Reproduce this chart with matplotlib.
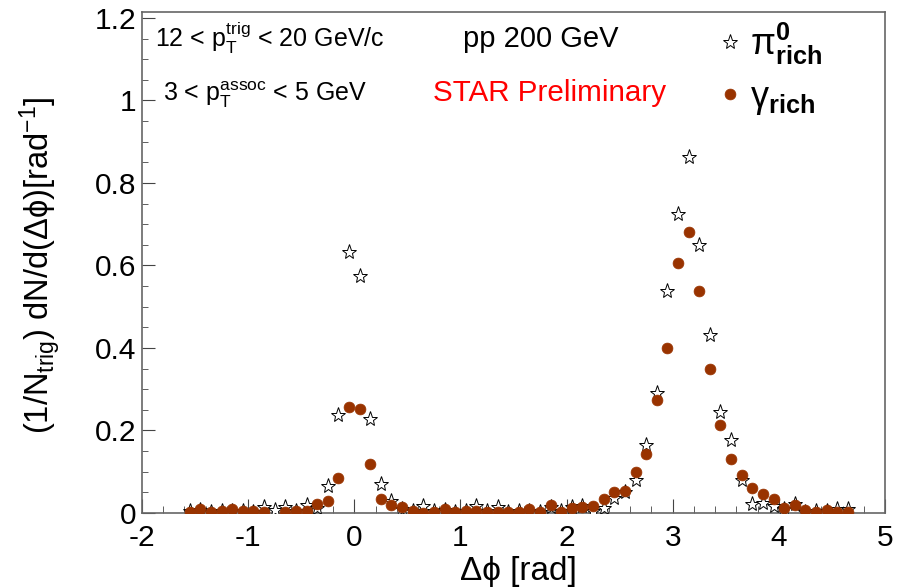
import numpy as np
import matplotlib
matplotlib.use('Agg')
import matplotlib.pyplot as plt
from matplotlib.ticker import MultipleLocator

plt.rcParams['font.family'] = ['Liberation Sans', 'DejaVu Sans']
plt.rcParams['mathtext.fontset'] = 'custom'
plt.rcParams['mathtext.rm'] = 'Liberation Sans'
plt.rcParams['mathtext.it'] = 'Liberation Sans:italic'
plt.rcParams['mathtext.bf'] = 'Liberation Sans:bold'
plt.rcParams['axes.unicode_minus'] = False

# delta phi bin centres (bin width 0.1 rad, -1.6 .. 4.7)
dphi = np.round(np.arange(-1.55, 4.7, 0.1), 2)

# pi0-rich triggers (open stars)
pi0_rich = [0.005, 0.008, 0.003, 0.006, 0.006, 0.004, 0.003, 0.015, 0.008, 0.015,
            0.005, 0.020, 0.012, 0.066, 0.237, 0.633, 0.575, 0.227, 0.070, 0.030,
            0.010, 0.005, 0.018, 0.004, 0.008, 0.003, 0.005, 0.018, 0.004, 0.015,
            0.003, 0.004, 0.006, 0.003, 0.015, 0.004, 0.015, 0.018, 0.004, 0.012,
            0.036, 0.050, 0.080, 0.166, 0.292, 0.537, 0.725, 0.862, 0.650, 0.431,
            0.245, 0.178, 0.080, 0.022, 0.024, 0.018, 0.010, 0.022, 0.003, 0.004,
            0.005, 0.010, 0.010]

# gamma-rich triggers (filled circles)
gamma_rich = [0.003, 0.010, 0.003, 0.005, 0.010, 0.005, 0.004, 0.002, np.nan, 0.002,
              0.005, 0.005, 0.022, 0.028, 0.085, 0.256, 0.251, 0.118, 0.034, 0.020,
              0.014, 0.006, 0.001, 0.003, 0.009, 0.003, 0.004, 0.005, 0.002, 0.002,
              0.002, 0.002, 0.009, 0.002, 0.020, 0.003, 0.011, 0.014, 0.016, 0.034,
              0.051, 0.053, 0.100, 0.143, 0.273, 0.400, 0.605, 0.682, 0.538, 0.349,
              0.213, 0.130, 0.093, 0.060, 0.046, 0.034, 0.011, 0.019, 0.007, 0.003,
              0.007, 0.003, 0.003]

fig = plt.figure(figsize=(9.07, 5.87), dpi=100)
ax = fig.add_axes([0.1566, 0.1261, 0.8191, 0.8535])

ax.plot(dphi, pi0_rich, linestyle='none', marker='*', markersize=11,
        markerfacecolor='white', markeredgecolor='black', markeredgewidth=0.7,
        label=r'$\mathrm{\pi}^{\mathbf{0}}_{\mathbf{rich}}$', zorder=3)
ax.plot(dphi, gamma_rich, linestyle='none', marker='o', markersize=7.8,
        markerfacecolor='#993300', markeredgecolor='#993300', markeredgewidth=0.5,
        label=r'$\mathrm{\gamma}_{\mathbf{rich}}$', zorder=4)

ax.set_xlim(-2, 5)
ax.set_ylim(0, 1.2145)
ax.xaxis.set_major_locator(MultipleLocator(1))
ax.xaxis.set_minor_locator(MultipleLocator(0.2))
ax.yaxis.set_major_locator(MultipleLocator(0.2))
ax.yaxis.set_minor_locator(MultipleLocator(0.05))
ax.yaxis.set_major_formatter(plt.FuncFormatter(lambda v, p: '%g' % round(v, 2)))

ax.tick_params(which='both', direction='in', top=False, right=False,
               labelsize=21.5, color='#444444')
ax.tick_params(axis='x', which='major', length=10, pad=8)
ax.tick_params(axis='x', which='minor', length=5)
ax.tick_params(axis='y', which='major', length=9, pad=4)
ax.tick_params(axis='y', which='minor', length=4.5)
for s in ax.spines.values():
    s.set_color('#666666')
    s.set_linewidth(1.2)

ax.set_xlabel(u'\u0394\u03d5 [rad]', fontsize=24)
ax.xaxis.set_label_coords(0.506, -0.085)
ax.set_ylabel(u'(1/N$_{\\mathrm{trig}}$) dN/d(\u0394\u03d5)[rad$^{\\mathrm{-1}}$]',
              fontsize=23.5, va='center')
ax.yaxis.set_label_coords(-0.137, 0.495)

ax.text(0.0175, 0.930, r'12 < p$_{\mathrm{T}}^{\mathrm{trig}}$ < 20 GeV/c',
        transform=ax.transAxes, fontsize=18, va='baseline')
ax.text(0.028, 0.822, r'3 < p$_{\mathrm{T}}^{\mathrm{assoc}}$ < 5 GeV',
        transform=ax.transAxes, fontsize=18, va='baseline')
ax.text(0.432, 0.930, 'pp 200 GeV', transform=ax.transAxes, fontsize=21,
        va='baseline')
ax.text(0.392, 0.822, 'STAR Preliminary', transform=ax.transAxes, fontsize=21.3,
        va='baseline', color='red')

ax.legend(loc='upper left', bbox_to_anchor=(0.772, 0.983), frameon=False,
          fontsize=26, handlelength=0.8, handletextpad=0.15, labelspacing=0.36,
          borderpad=0, borderaxespad=0)

fig.savefig('out.png', dpi=100)
